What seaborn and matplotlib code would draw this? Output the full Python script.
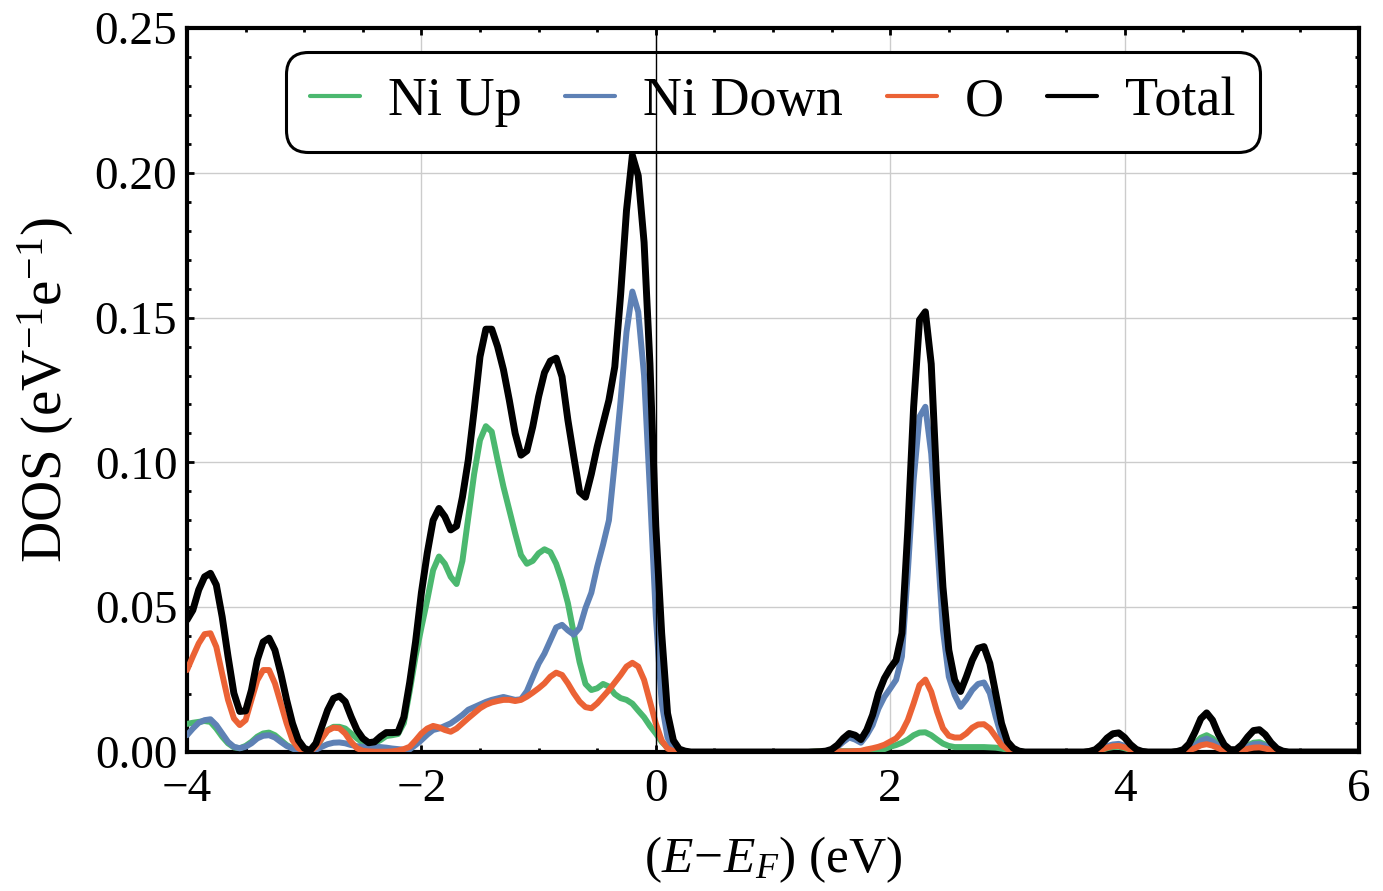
import matplotlib
matplotlib.use("Agg")
import matplotlib.pyplot as plt
from matplotlib.lines import Line2D
from matplotlib.ticker import MultipleLocator, FormatStrFormatter
import pandas as pd
import seaborn as sns

# energy grid (eV, relative to E_F) and DOS values
energy = [
    -4.00, -3.95, -3.90, -3.85, -3.80, -3.75, -3.70, -3.65, -3.60, -3.55,
    -3.50, -3.45, -3.40, -3.35, -3.30, -3.25, -3.20, -3.15, -3.10, -3.05,
    -3.00, -2.95, -2.90, -2.85, -2.80, -2.75, -2.70, -2.65, -2.60, -2.55,
    -2.50, -2.45, -2.40, -2.35, -2.30, -2.25, -2.20, -2.15, -2.10, -2.05,
    -2.00, -1.95, -1.90, -1.85, -1.80, -1.75, -1.70, -1.65, -1.60, -1.55,
    -1.50, -1.45, -1.40, -1.35, -1.30, -1.25, -1.20, -1.15, -1.10, -1.05,
    -1.00, -0.95, -0.90, -0.85, -0.80, -0.75, -0.70, -0.65, -0.60, -0.55,
    -0.50, -0.45, -0.40, -0.35, -0.30, -0.25, -0.20, -0.15, -0.10, -0.05,
    0.00, 0.05, 0.10, 0.15, 0.20, 0.25, 0.30,
    0.40, 0.70, 1.00, 1.30,
    1.40, 1.45, 1.50, 1.55, 1.60, 1.65, 1.70, 1.75, 1.80, 1.85,
    1.90, 1.95, 2.00, 2.05, 2.10, 2.15, 2.20, 2.25, 2.30, 2.35,
    2.40, 2.45, 2.50, 2.55, 2.60, 2.65, 2.70, 2.75, 2.80, 2.85,
    2.90, 2.95, 3.00, 3.05, 3.10, 3.15, 3.20,
    3.40, 3.60,
    3.65, 3.70, 3.75, 3.80, 3.85, 3.90, 3.95, 4.00, 4.05, 4.10, 4.15, 4.20,
    4.30, 4.40,
    4.45, 4.50, 4.55, 4.60, 4.65, 4.70, 4.75, 4.80, 4.85, 4.90,
    4.95, 5.00, 5.05, 5.10, 5.15, 5.20, 5.25, 5.30, 5.35, 5.40,
    5.60, 6.00,
]

ni_up = [
    0.0097, 0.0101, 0.0104, 0.0107, 0.0104, 0.0081, 0.0053, 0.0030, 0.0016, 0.0013,
    0.0021, 0.0035, 0.0053, 0.0064, 0.0067, 0.0058, 0.0041, 0.0024, 0.0013, 0.0005,
    0.0002, 0.0002, 0.0013, 0.0047, 0.0076, 0.0087, 0.0087, 0.0081, 0.0064, 0.0047,
    0.0032, 0.0028, 0.0030, 0.0041, 0.0055, 0.0058, 0.0062, 0.0100, 0.0210, 0.0330,
    0.0430, 0.0525, 0.0628, 0.0675, 0.0650, 0.0605, 0.0580, 0.0660, 0.0810, 0.0960,
    0.1077, 0.1125, 0.1106, 0.1008, 0.0916, 0.0836, 0.0755, 0.0680, 0.0650, 0.0660,
    0.0686, 0.0700, 0.0690, 0.0650, 0.0590, 0.0514, 0.0410, 0.0310, 0.0235, 0.0214,
    0.0220, 0.0235, 0.0226, 0.0200, 0.0186, 0.0180, 0.0167, 0.0143, 0.0120, 0.0090,
    0.0064, 0.0035, 0.0015, 0.0005, 0.0001, 0.0, 0.0,
    0.0, 0.0, 0.0, 0.0,
    0.0003, 0.0003, 0.0003, 0.0003, 0.0003, 0.0003, 0.0003, 0.0003, 0.0005, 0.0006,
    0.0008, 0.0010, 0.0018, 0.0024, 0.0032, 0.0043, 0.0058, 0.0067, 0.0068, 0.0058,
    0.0043, 0.0029, 0.0021, 0.0017, 0.0017, 0.0017, 0.0017, 0.0017, 0.0017, 0.0016,
    0.0015, 0.0012, 0.0008, 0.0004, 0.0001, 0.0, 0.0,
    0.0, 0.0,
    0.0, 0.0001, 0.0002, 0.0007, 0.0013, 0.0017, 0.0018, 0.0013, 0.0007, 0.0002, 0.0001, 0.0,
    0.0, 0.0,
    0.0001, 0.0004, 0.0012, 0.0029, 0.0049, 0.0058, 0.0047, 0.0027, 0.0011, 0.0004,
    0.0004, 0.0011, 0.0023, 0.0032, 0.0034, 0.0026, 0.0014, 0.0005, 0.0001, 0.0,
    0.0, 0.0,
]

ni_down = [
    0.0058, 0.0081, 0.0101, 0.0110, 0.0113, 0.0093, 0.0064, 0.0035, 0.0018, 0.0013,
    0.0018, 0.0030, 0.0047, 0.0056, 0.0058, 0.0050, 0.0035, 0.0021, 0.0012, 0.0005,
    0.0002, 0.0002, 0.0008, 0.0018, 0.0027, 0.0032, 0.0033, 0.0030, 0.0024, 0.0020,
    0.0018, 0.0018, 0.0018, 0.0017, 0.0015, 0.0012, 0.0010, 0.0008, 0.0009, 0.0024,
    0.0041, 0.0060, 0.0076, 0.0081, 0.0090, 0.0099, 0.0113, 0.0128, 0.0146, 0.0155,
    0.0164, 0.0173, 0.0180, 0.0185, 0.0190, 0.0185, 0.0180, 0.0182, 0.0210, 0.0258,
    0.0305, 0.0340, 0.0385, 0.0430, 0.0439, 0.0420, 0.0405, 0.0428, 0.0497, 0.0550,
    0.0640, 0.0716, 0.0800, 0.1000, 0.1215, 0.1450, 0.1590, 0.1520, 0.1300, 0.0900,
    0.0470, 0.0170, 0.0050, 0.0010, 0.0002, 0.0, 0.0,
    0.0, 0.0, 0.0, 0.0,
    0.0, 0.0002, 0.0007, 0.0018, 0.0035, 0.0050, 0.0043, 0.0032, 0.0058, 0.0093,
    0.0150, 0.0190, 0.0219, 0.0249, 0.0330, 0.0620, 0.0940, 0.1158, 0.1192, 0.1030,
    0.0732, 0.0421, 0.0260, 0.0197, 0.0156, 0.0182, 0.0214, 0.0235, 0.0240, 0.0203,
    0.0122, 0.0053, 0.0018, 0.0006, 0.0, 0.0, 0.0,
    0.0, 0.0,
    0.0, 0.0001, 0.0003, 0.0010, 0.0020, 0.0026, 0.0028, 0.0021, 0.0011, 0.0004, 0.0001, 0.0,
    0.0, 0.0,
    0.0001, 0.0003, 0.0010, 0.0023, 0.0039, 0.0046, 0.0037, 0.0021, 0.0008, 0.0003,
    0.0003, 0.0009, 0.0019, 0.0027, 0.0028, 0.0022, 0.0012, 0.0004, 0.0001, 0.0,
    0.0, 0.0,
]

oxygen = [
    0.0283, 0.0330, 0.0375, 0.0407, 0.0410, 0.0363, 0.0270, 0.0180, 0.0116, 0.0093,
    0.0110, 0.0180, 0.0248, 0.0283, 0.0283, 0.0237, 0.0168, 0.0099, 0.0041, 0.0013,
    0.0003, 0.0002, 0.0018, 0.0047, 0.0074, 0.0084, 0.0082, 0.0064, 0.0035, 0.0013,
    0.0004, 0.0002, 0.0001, 0.0001, 0.0001, 0.0002, 0.0005, 0.0010, 0.0018, 0.0040,
    0.0064, 0.0081, 0.0090, 0.0085, 0.0076, 0.0070, 0.0081, 0.0099, 0.0117, 0.0134,
    0.0151, 0.0163, 0.0171, 0.0176, 0.0180, 0.0180, 0.0176, 0.0180, 0.0191, 0.0205,
    0.0220, 0.0237, 0.0260, 0.0274, 0.0266, 0.0237, 0.0203, 0.0174, 0.0155, 0.0151,
    0.0168, 0.0191, 0.0214, 0.0240, 0.0266, 0.0295, 0.0308, 0.0295, 0.0249, 0.0174,
    0.0099, 0.0040, 0.0012, 0.0003, 0.0, 0.0, 0.0,
    0.0, 0.0, 0.0, 0.0,
    0.0001, 0.0001, 0.0001, 0.0002, 0.0002, 0.0002, 0.0003, 0.0004, 0.0009, 0.0013,
    0.0018, 0.0025, 0.0036, 0.0047, 0.0070, 0.0110, 0.0168, 0.0231, 0.0250, 0.0208,
    0.0139, 0.0082, 0.0056, 0.0050, 0.0050, 0.0064, 0.0084, 0.0095, 0.0096, 0.0081,
    0.0053, 0.0024, 0.0010, 0.0002, 0.0, 0.0, 0.0,
    0.0, 0.0,
    0.0, 0.0001, 0.0003, 0.0008, 0.0015, 0.0020, 0.0021, 0.0016, 0.0008, 0.0003, 0.0001, 0.0,
    0.0, 0.0,
    0.0001, 0.0002, 0.0006, 0.0013, 0.0023, 0.0027, 0.0022, 0.0013, 0.0005, 0.0002,
    0.0002, 0.0005, 0.0011, 0.0015, 0.0016, 0.0012, 0.0007, 0.0002, 0.0001, 0.0,
    0.0, 0.0,
]

total = [
    0.0456, 0.0490, 0.0560, 0.0605, 0.0617, 0.0577, 0.0467, 0.0330, 0.0203, 0.0140,
    0.0142, 0.0214, 0.0318, 0.0380, 0.0393, 0.0352, 0.0272, 0.0180, 0.0099, 0.0041,
    0.0013, 0.0005, 0.0030, 0.0087, 0.0145, 0.0185, 0.0193, 0.0174, 0.0122, 0.0076,
    0.0047, 0.0032, 0.0035, 0.0053, 0.0067, 0.0067, 0.0068, 0.0120, 0.0240, 0.0380,
    0.0550, 0.0687, 0.0800, 0.0841, 0.0813, 0.0767, 0.0780, 0.0880, 0.1008, 0.1180,
    0.1365, 0.1460, 0.1460, 0.1400, 0.1320, 0.1215, 0.1100, 0.1025, 0.1040, 0.1123,
    0.1227, 0.1310, 0.1350, 0.1360, 0.1296, 0.1146, 0.1020, 0.0898, 0.0880, 0.0960,
    0.1054, 0.1135, 0.1215, 0.1330, 0.1580, 0.1870, 0.2060, 0.1990, 0.1760, 0.1340,
    0.0780, 0.0410, 0.0134, 0.0040, 0.0010, 0.0003, 0.0,
    0.0, 0.0, 0.0, 0.0,
    0.0001, 0.0003, 0.0009, 0.0024, 0.0047, 0.0064, 0.0058, 0.0043, 0.0076, 0.0128,
    0.0203, 0.0254, 0.0289, 0.0317, 0.0410, 0.0766, 0.1192, 0.1492, 0.1520, 0.1340,
    0.0905, 0.0570, 0.0352, 0.0249, 0.0209, 0.0260, 0.0317, 0.0358, 0.0364, 0.0306,
    0.0203, 0.0099, 0.0036, 0.0013, 0.0003, 0.0, 0.0,
    0.0, 0.0,
    0.0, 0.0002, 0.0008, 0.0025, 0.0048, 0.0063, 0.0066, 0.0050, 0.0026, 0.0009, 0.0002, 0.0,
    0.0, 0.0,
    0.0002, 0.0008, 0.0028, 0.0068, 0.0115, 0.0135, 0.0110, 0.0062, 0.0025, 0.0008,
    0.0008, 0.0025, 0.0052, 0.0074, 0.0077, 0.0060, 0.0032, 0.0012, 0.0003, 0.0,
    0.0, 0.0,
]

series_names = ["Ni Up", "Ni Down", "O", "Total"]
colors = ["#4BB86F", "#5E81B5", "#EB6235", "#000000"]
widths = [4.3, 4.3, 4.3, 5.0]

sns.set_style("ticks")
plt.rcParams["font.family"] = ["Liberation Serif", "DejaVu Serif"]
plt.rcParams["mathtext.fontset"] = "custom"
plt.rcParams["mathtext.rm"] = "Liberation Serif"
plt.rcParams["mathtext.it"] = "Liberation Serif:italic"
plt.rcParams["axes.unicode_minus"] = True
for key in ["text.color", "axes.labelcolor", "xtick.color", "ytick.color",
            "axes.edgecolor"]:
    plt.rcParams[key] = "black"

df = pd.DataFrame({"E": energy, "Ni Up": ni_up, "Ni Down": ni_down,
                   "O": oxygen, "Total": total})
long_df = df.melt(id_vars="E", var_name="series", value_name="DOS")

fig, ax = plt.subplots(figsize=(13.83, 8.91), dpi=100)
fig.subplots_adjust(left=187 / 1383, right=1359 / 1383,
                    bottom=1 - 752 / 891, top=1 - 28 / 891)

for name, col, lw in zip(series_names, colors, widths):
    sns.lineplot(data=long_df[long_df["series"] == name], x="E", y="DOS",
                 color=col, linewidth=lw, ax=ax, legend=False, zorder=3,
                 solid_joinstyle="round", solid_capstyle="round")

ax.set_xlim(-4, 6)
ax.set_ylim(0, 0.25)
ax.xaxis.set_major_locator(MultipleLocator(2))
ax.xaxis.set_minor_locator(MultipleLocator(0.5))
ax.yaxis.set_major_locator(MultipleLocator(0.05))
ax.yaxis.set_minor_locator(MultipleLocator(0.01))
ax.yaxis.set_major_formatter(FormatStrFormatter("%.2f"))

ax.grid(True, which="major", color="#cccccc", linewidth=1.0, zorder=0)
ax.set_axisbelow(True)
ax.axvline(0, color="black", linewidth=1.0, zorder=6)

for sp in ax.spines.values():
    sp.set_linewidth(3.0)
    sp.set_color("black")
ax.tick_params(which="both", direction="in", top=True, right=True,
               labelsize=34, width=2.0, color="black")
ax.tick_params(which="major", length=5)
ax.tick_params(which="minor", length=2.8)
ax.tick_params(axis="x", which="major", pad=12)
ax.tick_params(axis="y", which="major", pad=7)

ax.set_xlabel(r"$(E\!-\!E_F)$ (eV)", fontsize=37, labelpad=17)
ax.set_ylabel(r"DOS (eV$^{-1}$e$^{-1}$)", fontsize=41, labelpad=13)

handles = [Line2D([0], [0], color=c, lw=3.0) for c in colors]
leg = ax.legend(handles, series_names, loc="upper center", ncol=4,
                fontsize=39, frameon=True, fancybox=True, handlelength=0.92,
                handletextpad=0.52, columnspacing=0.8, borderpad=0.45,
                borderaxespad=0.45)
leg.get_frame().set_edgecolor("black")
leg.get_frame().set_linewidth(2.2)
leg.get_frame().set_alpha(1.0)
leg.get_frame().set_boxstyle("round", pad=0.0, rounding_size=0.4)

fig.savefig("out.png", dpi=100)
